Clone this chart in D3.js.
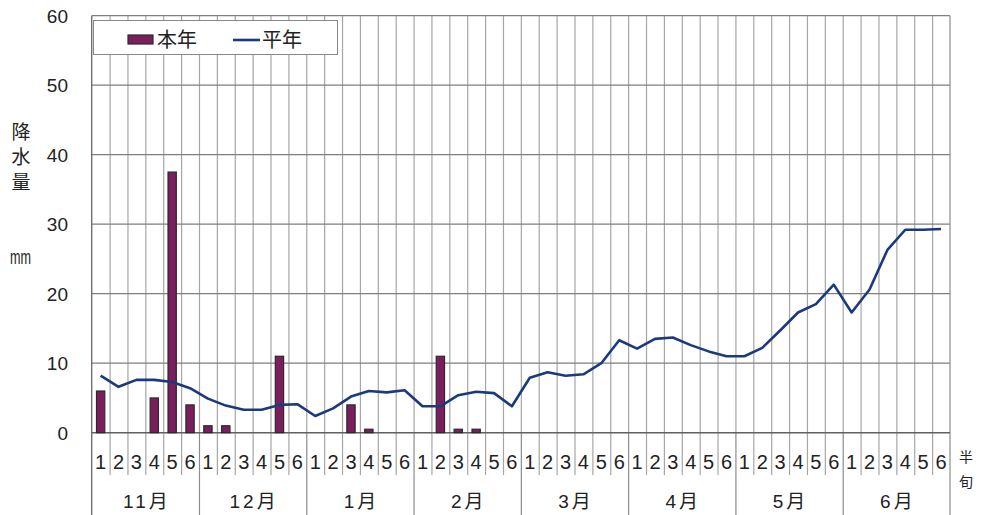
<!DOCTYPE html>
<html>
<head>
<meta charset="utf-8">
<script src="https://cdn.jsdelivr.net/npm/d3@7"></script>
<style>
  html, body { margin: 0; padding: 0; background: #fff; }
  svg { display: block; }
  text { font-family: "Liberation Sans", Arial, "Noto Sans CJK JP", sans-serif; fill: #222; }
  .cjk { font-family: "Noto Sans CJK JP", sans-serif; }
</style>
</head>
<body>
<svg id="chart" width="981" height="515"></svg>
<script>
const months = ["11月", "12月", "1月", "2月", "3月", "4月", "5月", "6月"];
const pentads = ["1", "2", "3", "4", "5", "6"];
const yTicks = [0, 10, 20, 30, 40, 50, 60];
const thisYear = [
  6, null, null, 5, 37.5, 4,
  1, 1, null, null, 11, null,
  null, null, 4, 0.5, null, null,
  null, 11, 0.5, 0.5, null, null,
  null, null, null, null, null, null,
  null, null, null, null, null, null,
  null, null, null, null, null, null,
  null, null, null, null, null, null
];
const normal = [
  8.2, 6.6, 7.6, 7.6, 7.3, 6.4,
  4.9, 3.9, 3.3, 3.3, 4.0, 4.1,
  2.4, 3.5, 5.2, 6.0, 5.8, 6.1,
  3.8, 3.8, 5.4, 5.9, 5.7, 3.8,
  7.9, 8.7, 8.2, 8.4, 10.0, 13.3,
  12.1, 13.5, 13.7, 12.6, 11.7, 11.0,
  11.0, 12.2, 14.7, 17.3, 18.5, 21.3,
  17.3, 20.6, 26.3, 29.2, 29.2, 29.3
];
const legendLabels = ["本年", "平年"];

const cats = [];
months.forEach((m, mi) => pentads.forEach((p, pi) => cats.push(mi * 6 + pi)));

const L = 91.7, R = 950, T = 15.7, B = 432.7, BOTTOM = 515;
const svg = d3.select("#chart");
const x = d3.scaleBand().domain(cats).range([L, R]).paddingInner(0).paddingOuter(0);
const y = d3.scaleLinear().domain([0, 60]).range([B, T]);
const bw = x.bandwidth();

// vertical gridlines
svg.append("g").selectAll("line").data(cats.slice(1)).join("line")
  .attr("x1", d => x(d) + 0.5).attr("x2", d => x(d) + 0.5)
  .attr("y1", T).attr("y2", B)
  .attr("stroke", "#a6a6a6").attr("stroke-width", 1.2);
// horizontal gridlines
svg.append("g").selectAll("line").data(yTicks.slice(1)).join("line")
  .attr("x1", L).attr("x2", R)
  .attr("y1", d => y(d)).attr("y2", d => y(d))
  .attr("stroke", "#7f7f7f").attr("stroke-width", 1.2);
// right edge
svg.append("line").attr("x1", R).attr("x2", R).attr("y1", T).attr("y2", BOTTOM)
  .attr("stroke", "#8c8c8c").attr("stroke-width", 1.2);

// axis table: pentad separators
svg.append("g").selectAll("line").data(cats.slice(1).filter(d => d % 6 !== 0)).join("line")
  .attr("x1", d => x(d) + 0.5).attr("x2", d => x(d) + 0.5)
  .attr("y1", B).attr("y2", 475)
  .attr("stroke", "#a6a6a6").attr("stroke-width", 1.2);
// month separators
svg.append("g").selectAll("line").data(cats.slice(1).filter(d => d % 6 === 0)).join("line")
  .attr("x1", d => x(d) + 0.5).attr("x2", d => x(d) + 0.5)
  .attr("y1", B).attr("y2", BOTTOM)
  .attr("stroke", "#8c8c8c").attr("stroke-width", 1.2);

// left axis line
svg.append("line").attr("x1", L).attr("x2", L).attr("y1", T).attr("y2", BOTTOM)
  .attr("stroke", "#707070").attr("stroke-width", 1.4);
// bottom axis line
svg.append("line").attr("x1", L).attr("x2", R).attr("y1", B).attr("y2", B)
  .attr("stroke", "#606060").attr("stroke-width", 1.4);

// y tick labels
svg.append("g").selectAll("text").data(yTicks).join("text")
  .attr("x", 68).attr("y", d => y(d)).attr("dy", "0.36em")
  .attr("text-anchor", "end").style("font-size", "19px")
  .text(d => d);

// y title
["降", "水", "量"].forEach((c, i) => {
  svg.append("text").attr("class", "cjk").attr("x", 21).attr("y", 132 + i * 25)
    .attr("dy", "0.36em").attr("text-anchor", "middle").style("font-size", "19px").text(c);
});
svg.append("text").attr("x", 10).attr("y", 263.5)
  .style("font-size", "21px")
  .attr("textLength", 21).attr("lengthAdjust", "spacingAndGlyphs").text("mm");

// pentad labels
svg.append("g").selectAll("text").data(cats).join("text")
  .attr("x", d => x(d) + bw / 2).attr("y", 462).attr("dy", "0.36em")
  .attr("text-anchor", "middle").style("font-size", "20px")
  .text(d => pentads[d % 6]);
// month labels
svg.append("g").selectAll("text").data(months).join("text")
  .attr("x", (d, i) => x(i * 6) + bw * 3 + 1.5).attr("y", 501).attr("dy", "0.36em")
  .attr("text-anchor", "middle").style("font-size", "19px").style("letter-spacing", "3px")
  .text(d => d);
// 半旬
svg.append("text").attr("class", "cjk").attr("x", 966).attr("y", 457).attr("dy", "0.36em")
  .attr("text-anchor", "middle").style("font-size", "14px").text("半");
svg.append("text").attr("class", "cjk").attr("x", 966).attr("y", 482).attr("dy", "0.36em")
  .attr("text-anchor", "middle").style("font-size", "14px").text("旬");

// bars
const barW = 8.3;
svg.append("g").selectAll("rect").data(cats.filter(d => thisYear[d] != null)).join("rect")
  .attr("x", d => x(d) + bw / 2 - barW / 2)
  .attr("y", d => y(thisYear[d]))
  .attr("width", barW)
  .attr("height", d => B - y(thisYear[d]))
  .attr("fill", "#7b1e5e").attr("stroke", "#2a2a2a").attr("stroke-width", 1.2);

// normal line
const line = d3.line().x(d => x(d) + bw / 2).y(d => y(normal[d]));
svg.append("path").datum(cats).attr("d", line)
  .attr("fill", "none").attr("stroke", "#1b3a7e").attr("stroke-width", 2.6)
  .attr("stroke-linejoin", "round");

// legend
const lg = svg.append("g");
lg.append("rect").attr("x", 93.5).attr("y", 20.5).attr("width", 244).attr("height", 34)
  .attr("fill", "#fff").attr("stroke", "#888").attr("stroke-width", 1);
lg.append("rect").attr("x", 128).attr("y", 35).attr("width", 25).attr("height", 9)
  .attr("fill", "#7b1e5e").attr("stroke", "#2a2a2a").attr("stroke-width", 1.2);
lg.append("text").attr("class", "cjk").attr("x", 157).attr("y", 39.5).attr("dy", "0.36em")
  .style("font-size", "20px").text(legendLabels[0]);
lg.append("line").attr("x1", 233).attr("x2", 260).attr("y1", 40).attr("y2", 40)
  .attr("stroke", "#1b3a7e").attr("stroke-width", 2.6);
lg.append("text").attr("class", "cjk").attr("x", 262).attr("y", 39.5).attr("dy", "0.36em")
  .style("font-size", "20px").text(legendLabels[1]);
</script>
</body>
</html>
